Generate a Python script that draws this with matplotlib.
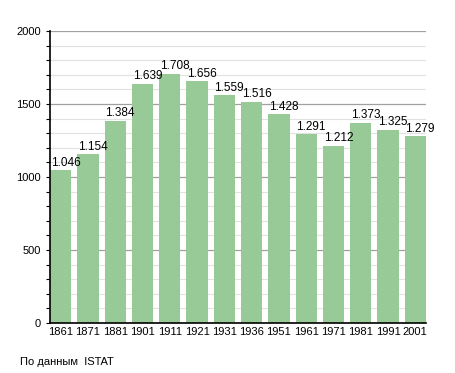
import matplotlib.pyplot as plt
from matplotlib.ticker import MultipleLocator

years = ["1861", "1871", "1881", "1901", "1911", "1921", "1931",
         "1936", "1951", "1961", "1971", "1981", "1991", "2001"]
population = [1046, 1154, 1384, 1639, 1708, 1656, 1559,
              1516, 1428, 1291, 1212, 1373, 1325, 1279]

plt.rcParams['font.family'] = ['Liberation Sans', 'DejaVu Sans']

fig = plt.figure(figsize=(4.55, 3.73), dpi=100)
ax = fig.add_axes([0.11, 0.134, 0.826, 0.783])

w = 0.78
x = range(len(years))
ax.bar(x, population, width=w, color="#97ca97", zorder=2)

# value labels sit left-aligned just above each bar
for i, v in enumerate(population):
    label = f"{v:,}".replace(",", ".")
    ax.text(i - w / 2 + 0.03, v + 32, label, ha="left", va="baseline",
            fontsize=8.5, zorder=3)

ax.set_xlim(-w / 2, len(years) - 1 + w / 2)
ax.set_ylim(0, 2000)
ax.set_xticks(list(x))
ax.set_xticklabels(years, fontsize=8)
ax.yaxis.set_major_locator(MultipleLocator(500))
ax.yaxis.set_minor_locator(MultipleLocator(100))
ax.tick_params(axis="y", labelsize=8, length=3, which="both", width=0.8)
ax.tick_params(axis="x", length=0, pad=3)

ax.grid(axis="y", which="major", color="#a0a0a0", linewidth=0.9, zorder=0)
ax.grid(axis="y", which="minor", color="#e2e2e2", linewidth=0.8, zorder=0)
ax.set_axisbelow(True)

for s in ["top", "right"]:
    ax.spines[s].set_visible(False)
ax.spines["left"].set_linewidth(1.2)
ax.spines["bottom"].set_linewidth(1.2)

fig.text(20 / 455, 1 - 362 / 373, "По данным  ISTAT", fontsize=8, va="center")

fig.savefig("out.png", dpi=100)
